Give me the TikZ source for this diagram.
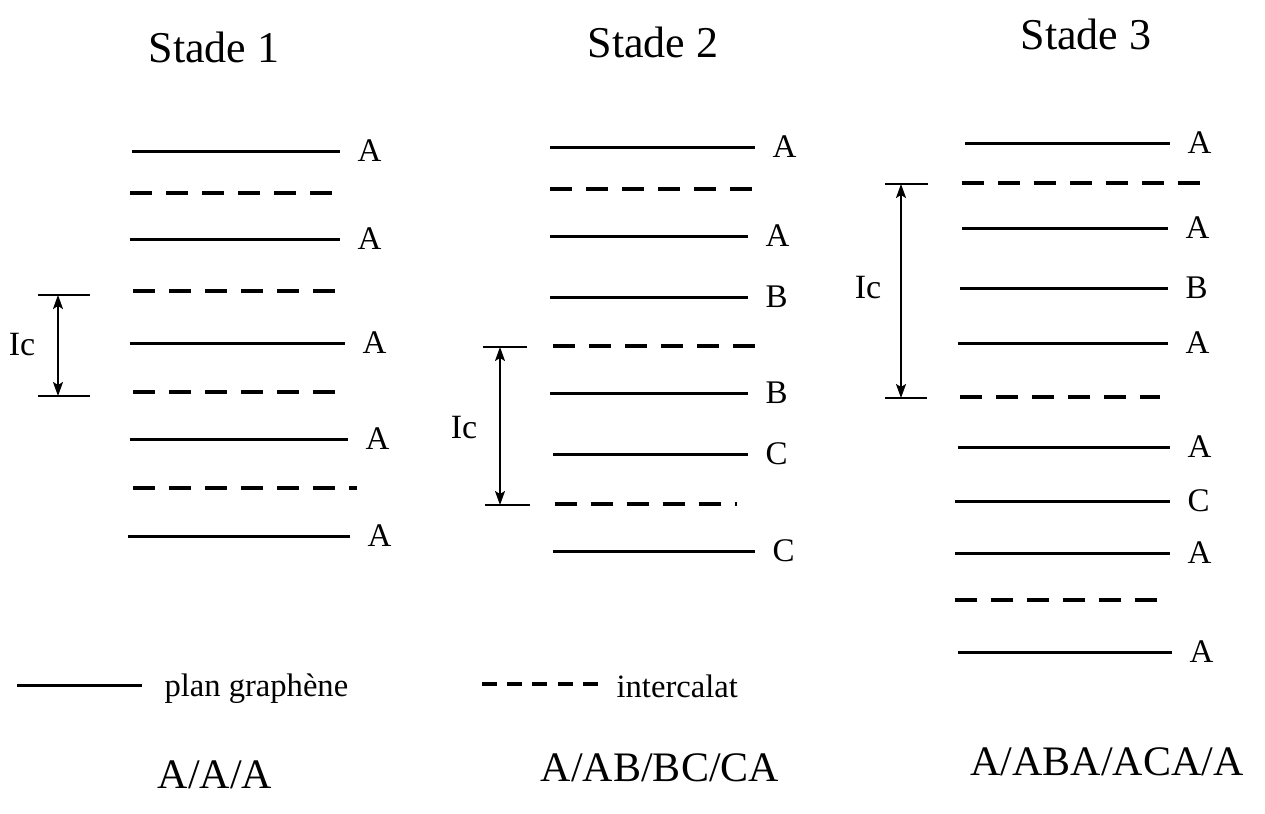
\documentclass[tikz,border=0pt]{standalone}
\usepackage{fontspec}
\setmainfont{Liberation Serif}
\usetikzlibrary{arrows.meta}

\begin{document}
\begin{tikzpicture}[
  x=0.5pt, y=-0.5pt,
  >={Stealth[length=7pt, width=5pt, inset=1.5pt]},
  plan/.style={line width=1.5pt},
  inter/.style={line width=1.6pt, dash pattern=on 11pt off 7pt},
  lettre/.style={right, inner sep=0pt, xshift=8pt, font=\fontsize{16.5}{18}\selectfont},
  titre/.style={font=\fontsize{22}{26}\selectfont},
  seq/.style={font=\fontsize{21}{25}\selectfont},
  legende/.style={right, inner sep=0pt, font=\fontsize{16.3}{19}\selectfont},
  repere/.style={line width=1pt},
  cote/.style={<->, line width=0.8pt},
  ic/.style={font=\fontsize{17}{20}\selectfont},
]
\useasboundingbox (0,0) rectangle (1265,814);

% ---- titres ------------------------------------------------------------
\node[titre] (t1) at (214,47) {Stade 1};
\node[titre] (t2) at (653,42) {Stade 2};
\node[titre] (t3) at (1086,34) {Stade 3};

% ---- stade 1 -------------------------------------------------------------
\foreach \y/\xa/\xb/\l in {151/132/340/A, 239/130/340/A, 343/130/345/A, 439/130/348/A, 536/128/350/A}
  \draw[plan] (\xa,\y) -- (\xb,\y) node[lettre] {\l};
\foreach \y/\xa/\xb in {193/130/335, 291/133/340, 392/133/345, 488/133/357}
  \draw[inter] (\xa,\y) -- (\xb,\y);

% ---- stade 2 -------------------------------------------------------------
\foreach \y/\xa/\xb/\l in {147/550/755/A, 236/550/748/A, 297/550/748/B, 393/550/748/B, 454/553/748/C, 551/553/755/C}
  \draw[plan] (\xa,\y) -- (\xb,\y) node[lettre] {\l};
\foreach \y/\xa/\xb in {189/550/755, 346/553/755, 504/555/737}
  \draw[inter] (\xa,\y) -- (\xb,\y);

% ---- stade 3 -------------------------------------------------------------
\foreach \y/\xa/\xb/\l in {143/965/1170/A, 228/962/1168/A, 288/960/1168/B, 343/958/1168/A, 447/958/1170/A, 501/955/1170/C, 553/955/1170/A, 652/958/1172/A}
  \draw[plan] (\xa,\y) -- (\xb,\y) node[lettre] {\l};
\foreach \y/\xa/\xb in {183/962/1200, 397/960/1160, 600/955/1162}
  \draw[inter] (\xa,\y) -- (\xb,\y);

% ---- distances Ic --------------------------------------------------------
\coordinate (ic1h) at (58,295);  \coordinate (ic1b) at (58,396);
\coordinate (ic2h) at (500,347); \coordinate (ic2b) at (500,505);
\coordinate (ic3h) at (901,184); \coordinate (ic3b) at (901,398);
\draw[repere] (38,295) -- (90,295);
\draw[repere] (38,396) -- (90,396);
\draw[repere] (483,347) -- (527,347);
\draw[repere] (485,505) -- (530,505);
\draw[repere] (885,184) -- (928,184);
\draw[repere] (885,398) -- (927,398);
\draw[cote] (ic1h) -- (ic1b);
\draw[cote] (ic2h) -- (ic2b);
\draw[cote] (ic3h) -- (ic3b);
\node[ic] (ic1) at (22,345) {Ic};
\node[ic] (ic2) at (464,428) {Ic};
\node[ic] (ic3) at (868,288) {Ic};

% ---- legende -------------------------------------------------------------
\coordinate (lp) at (17,685);
\coordinate (li) at (482,684);
\draw[plan] (lp) -- ++(125,0) node[legende, xshift=10.5pt, yshift=-2pt] (lpt) {plan graphène};
\draw[inter, dash pattern=on 7.5pt off 5.1pt] (li) -- ++(116,0) node[legende, xshift=8.5pt, yshift=-1pt] (lit) {intercalat};

% ---- sequences -----------------------------------------------------------
\node[seq] (s1) at (215,775) {A/A/A};
\node[seq] (s2) at (660,768) {A/AB/BC/CA};
\node[seq] (s3) at (1107,762) {A/ABA/ACA/A};

\end{tikzpicture}
\end{document}
